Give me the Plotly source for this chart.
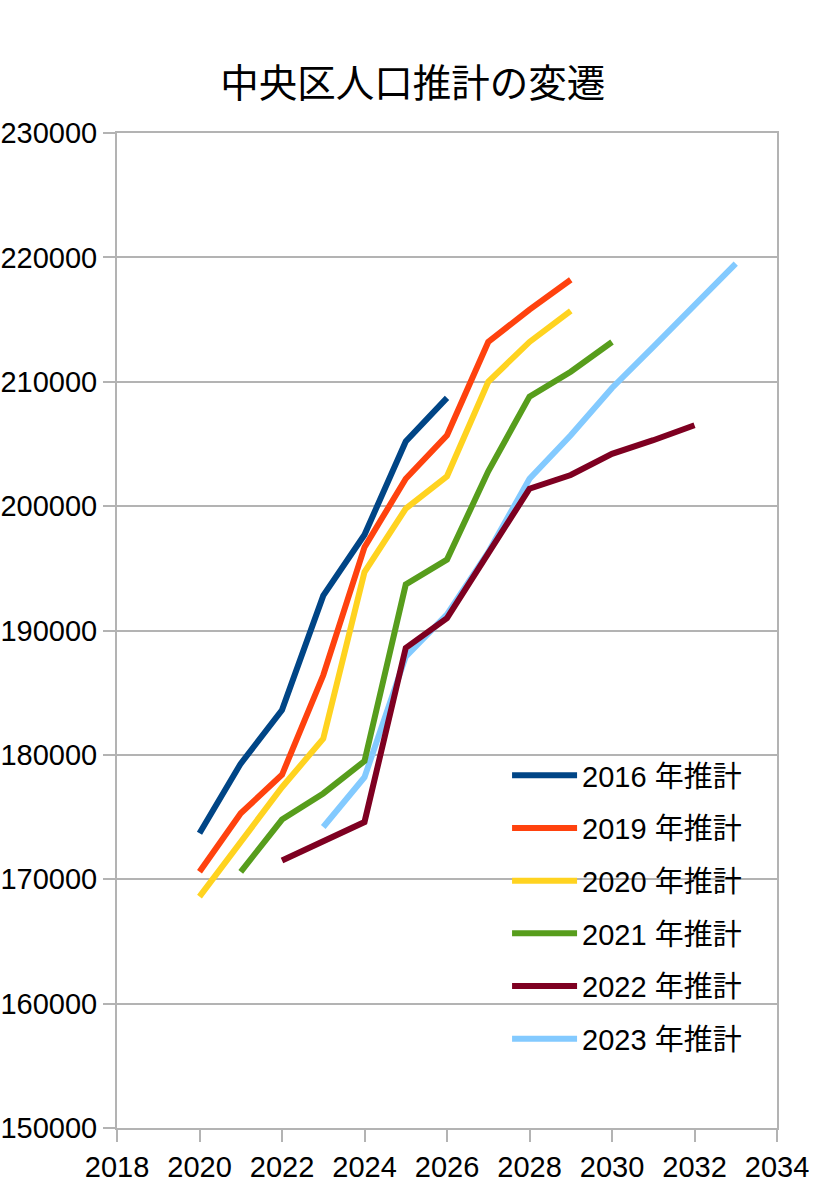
import plotly.graph_objects as go

series_names = ["2016 年推計", "2019 年推計", "2020 年推計", "2021 年推計", "2022 年推計", "2023 年推計"]
colors = ["#004586", "#ff420e", "#ffd320", "#579d1c", "#7e0021", "#83caff"]

years_2016 = [2020, 2021, 2022, 2023, 2024, 2025, 2026]
pop_2016 = [173700, 179300, 183600, 192800, 197700, 205200, 208700]

years_2019 = [2020, 2021, 2022, 2023, 2024, 2025, 2026, 2027, 2028, 2029]
pop_2019 = [170600, 175300, 178400, 186400, 196700, 202200, 205700, 213200, 215800, 218200]

years_2020 = [2020, 2021, 2022, 2023, 2024, 2025, 2026, 2027, 2028, 2029]
pop_2020 = [168600, 173000, 177400, 181300, 194700, 199800, 202400, 210000, 213200, 215700]

years_2021 = [2021, 2022, 2023, 2024, 2025, 2026, 2027, 2028, 2029, 2030]
pop_2021 = [170600, 174800, 176900, 179500, 193700, 195700, 202800, 208800, 210800, 213200]

years_2022 = [2022, 2023, 2024, 2025, 2026, 2027, 2028, 2029, 2030, 2031, 2032]
pop_2022 = [171500, 173100, 174600, 188600, 191000, 196200, 201400, 202500, 204200, 205300, 206500]

years_2023 = [2023, 2024, 2025, 2026, 2027, 2028, 2029, 2030, 2031, 2032, 2033]
pop_2023 = [174200, 178200, 187900, 191300, 196300, 202200, 205700, 209500, 212800, 216200, 219500]

x_ticks = list(range(2018, 2035, 2))
y_ticks = list(range(150000, 230001, 10000))

all_x = [years_2016, years_2019, years_2020, years_2021, years_2022, years_2023]
all_y = [pop_2016, pop_2019, pop_2020, pop_2021, pop_2022, pop_2023]

fig = go.Figure()
# draw later series first so earlier series appear on top (as in reference)
for i in reversed(range(len(series_names))):
    fig.add_trace(go.Scatter(
        x=all_x[i], y=all_y[i], mode="lines", name=series_names[i],
        line=dict(color=colors[i], width=6),
        legendrank=i + 1, legendgroup=f"g{i}",
    ))

grid = "#b3b3b3"
W, H = 822, 1190
fig.update_layout(
    width=W, height=H,
    margin=dict(l=117, r=45, t=133, b=62, autoexpand=False),
    paper_bgcolor="white", plot_bgcolor="white",
    font=dict(family="Liberation Sans, Noto Sans CJK JP, sans-serif", size=29, color="black"),
    title=dict(text="中央区人口推計の変遷", x=0.502, xref="container", xanchor="center",
               y=1 - 84 / H, yref="container", yanchor="middle",
               font=dict(family="Noto Sans CJK JP, sans-serif", size=38.5, color="black")),
    showlegend=True,
    legend=dict(x=0.591, y=0.380, xanchor="left", yanchor="top", bgcolor="rgba(0,0,0,0)",
                font=dict(size=29, family="Liberation Sans, Noto Sans CJK JP"),
                tracegroupgap=12, itemwidth=65),
    xaxis=dict(range=[2018, 2034], tickvals=x_ticks, ticktext=[str(v) for v in x_ticks],
               showgrid=False, showline=True, linecolor=grid, linewidth=2, mirror=True,
               ticks="outside", ticklen=12, tickcolor=grid, tickwidth=2, zeroline=False,
               tickfont=dict(size=29), automargin=False),
    yaxis=dict(range=[150000, 230000], tickvals=y_ticks, ticktext=[str(v) for v in y_ticks],
               showgrid=True, gridcolor=grid, gridwidth=2, showline=True, linecolor=grid,
               linewidth=2, mirror=True, ticks="outside", ticklen=12, tickcolor=grid,
               tickwidth=2, zeroline=False, tickfont=dict(size=29), automargin=False),
)

fig.write_html("out.html", config={"displayModeBar": False},
               post_script="document.body.style.margin='0';")
